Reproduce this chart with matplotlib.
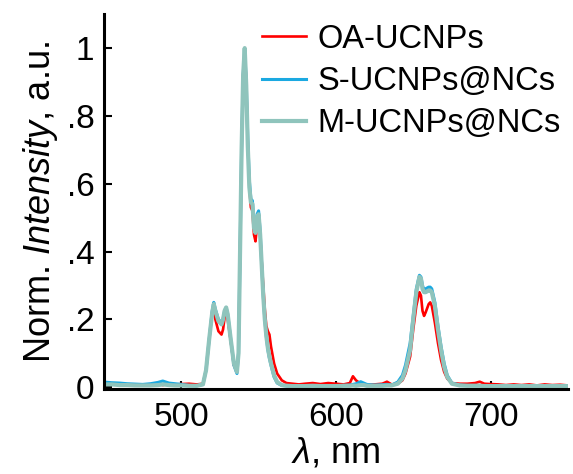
import numpy as np
import matplotlib
matplotlib.use('Agg')
import matplotlib.pyplot as plt

plt.rcParams['font.family'] = ['Liberation Sans', 'DejaVu Sans']
plt.rcParams['mathtext.fontset'] = 'custom'
plt.rcParams['mathtext.rm'] = 'Liberation Sans'
plt.rcParams['mathtext.it'] = 'Liberation Sans:italic'

# Longitudes de onda (nm)
wl = [450, 455, 460, 465, 470, 475, 480, 485, 488, 492, 496, 500, 505, 510, 514, 516, 518,
      520, 521, 522, 524, 526, 527, 528, 529, 530, 532, 534, 536, 537, 538, 539, 540, 541,
      542, 543, 544, 545, 546, 547, 548, 549, 550, 551, 552, 553, 554, 555, 556, 557, 558,
      560, 562, 565, 568, 572, 576, 580, 585, 590, 595, 600, 605, 609, 611, 613, 616, 618,
      620, 625, 630, 633, 636, 640, 643, 645, 648, 650, 652, 654, 655, 656, 657, 658, 660,
      661, 662, 664, 666, 668, 670, 672, 675, 680, 685, 690, 693, 696, 700, 705, 710, 715,
      720, 725, 730, 735, 740, 745, 750]

oa_ucnps = [.008, .010, .008, .007, .008, .006, .008, .010, .006, .010, .008, .009, .010, .008, .010, .050, .140,
            .220, .240, .200, .165, .155, .170, .205, .220, .200, .135, .065, .045, .100, .400, .700, .920, 1.00,
            .900, .720, .590, .530, .520, .450, .430, .480, .500, .450, .370, .300, .230, .180, .165, .155, .120,
            .070, .040, .020, .012, .010, .008, .010, .012, .009, .012, .010, .008, .012, .032, .020, .010, .008,
            .007, .008, .010, .016, .008, .010, .020, .040, .090, .170, .240, .280, .270, .225, .210, .220, .245,
            .250, .240, .190, .130, .080, .045, .025, .012, .010, .010, .012, .016, .010, .009, .008, .006, .008,
            .006, .008, .005, .008, .006, .007, .005]

s_ucnps = [.015, .013, .012, .010, .009, .008, .010, .014, .018, .012, .010, .008, .005, .004, .008, .050, .140,
           .225, .250, .230, .200, .190, .200, .225, .235, .215, .140, .065, .040, .100, .400, .700, .920, .995,
           .900, .730, .610, .555, .550, .480, .470, .510, .520, .460, .360, .270, .200, .150, .110, .085, .065,
           .030, .012, .005, .004, .003, .003, .004, .004, .004, .003, .004, .005, .006, .008, .010, .016, .012,
           .008, .006, .007, .008, .006, .015, .035, .065, .130, .210, .290, .330, .325, .300, .285, .290, .295,
           .295, .290, .250, .180, .120, .070, .035, .012, .006, .005, .005, .005, .004, .004, .004, .004, .004,
           .004, .004, .004, .004, .004, .004, .004]

m_ucnps = [.008, .008, .006, .006, .005, .005, .005, .006, .008, .006, .005, .005, .004, .004, .008, .050, .140,
           .220, .245, .225, .195, .185, .200, .225, .235, .215, .140, .070, .045, .100, .400, .700, .920, 1.00,
           .890, .710, .590, .545, .540, .470, .455, .500, .510, .450, .360, .270, .200, .150, .115, .090, .070,
           .035, .015, .006, .004, .003, .003, .003, .004, .003, .003, .003, .004, .004, .005, .004, .006, .006,
           .004, .004, .004, .005, .005, .010, .025, .050, .110, .200, .280, .325, .320, .290, .280, .280, .285,
           .285, .280, .240, .170, .110, .060, .030, .010, .005, .004, .004, .004, .003, .003, .003, .003, .003,
           .003, .003, .003, .003, .003, .003, .003]

labels = ['OA-UCNPs', 'S-UCNPs@NCs', 'M-UCNPs@NCs']
colors = ['#ff0000', '#1ba9e1', '#8fc4bc']
widths = [1.9, 2.2, 3.0]

fig = plt.figure(figsize=(5.73, 4.74), dpi=100)
ax = fig.add_axes([0.1815, 0.179, 0.8095, 0.791])

for serie, lab, col, lw in zip([oa_ucnps, s_ucnps, m_ucnps], labels, colors, widths):
    ax.plot(wl, serie, color=col, lw=lw, label=lab)

ax.set_xlim(450, 750)
ax.set_ylim(-0.006, 1.1)
ax.set_xticks([500, 600, 700])
ax.set_yticks([0, 0.2, 0.4, 0.6, 0.8, 1.0])
ax.set_yticklabels(['0', '.2', '.4', '.6', '.8', '1'])
ax.tick_params(direction='in', length=6, width=1.5, labelsize=24, pad=7)
ax.tick_params(axis='x', pad=9)
for lado in ['top', 'right']:
    ax.spines[lado].set_visible(False)
for lado in ['left', 'bottom']:
    ax.spines[lado].set_linewidth(2.2)

ax.set_xlabel(r'$\lambda$, nm', fontsize=26, labelpad=2)
ax.set_ylabel(r'Norm. $\mathit{Intensity}$, a.u.', fontsize=26, labelpad=5)

ax.legend(loc='upper right', frameon=False, fontsize=23.5, handlelength=1.35,
          handletextpad=0.35, labelspacing=0.35, borderaxespad=0.0,
          bbox_to_anchor=(1.012, 1.01))

fig.savefig('out.png', dpi=100)
